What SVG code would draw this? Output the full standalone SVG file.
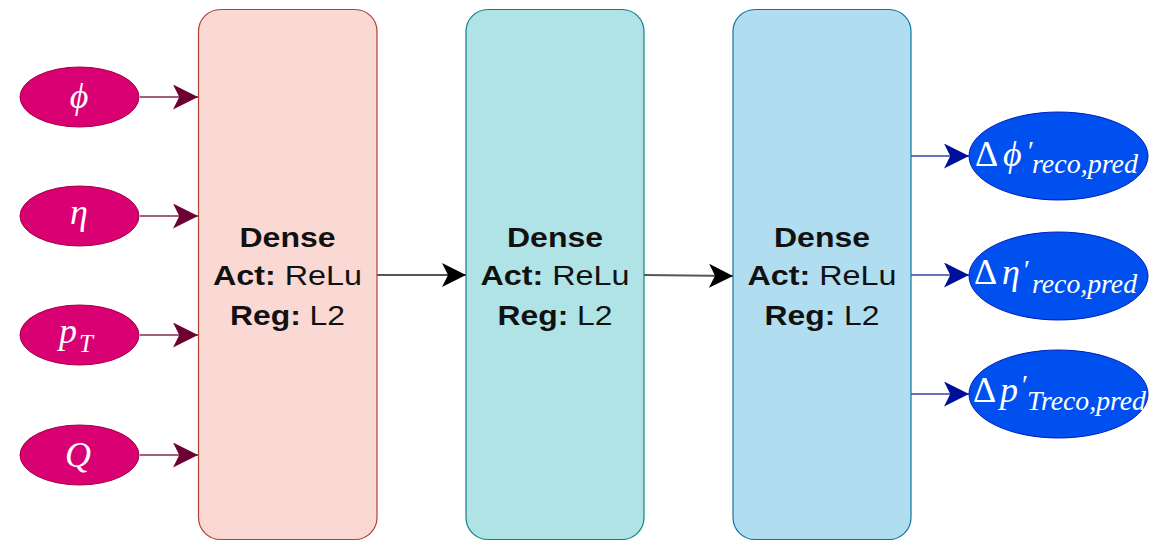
<svg xmlns="http://www.w3.org/2000/svg" width="1169" height="541" viewBox="0 0 1169 541">
  <defs>
    <marker id="ah-in" viewBox="0 0 10 10" refX="10" refY="5" markerWidth="25" markerHeight="25" markerUnits="userSpaceOnUse" orient="auto">
      <path d="M0,0 L10,5 L0,10 L2.5,5 Z" fill="#6d0032"/>
    </marker>
    <marker id="ah-mid" viewBox="0 0 10 10" refX="10" refY="5" markerWidth="24" markerHeight="24" markerUnits="userSpaceOnUse" orient="auto">
      <path d="M0,0 L10,5 L0,10 L2.5,5 Z" fill="#000"/>
    </marker>
    <marker id="ah-out" viewBox="0 0 10 10" refX="10" refY="5" markerWidth="25" markerHeight="25" markerUnits="userSpaceOnUse" orient="auto">
      <path d="M0,0 L10,5 L0,10 L2.5,5 Z" fill="#000f99"/>
    </marker>
  </defs>
  <style>
    .in { fill: #d80073; stroke: #a50040; stroke-width: 1; }
    .out { fill: #0050ef; stroke: #001dbc; stroke-width: 1; }
    .layer { stroke-width: 1.2; }
    .lbl { font-family: "Liberation Sans", Arial, sans-serif; font-size: 28px; fill: #111; text-anchor: middle; }
    .b { font-weight: bold; }
    .math { font-family: "Liberation Serif", "DejaVu Serif", serif; font-style: italic; fill: #fff; }
    .up { font-style: normal; }
    .c-in { stroke: #a0607e; stroke-width: 2; fill: none; marker-end: url(#ah-in); }
    .c-mid { stroke: #555; stroke-width: 2; fill: none; marker-end: url(#ah-mid); }
    .c-out { stroke: #6f6fbf; stroke-width: 2; fill: none; marker-end: url(#ah-out); }
  </style>

  <!-- connectors -->
  <g id="connectors">
    <path class="c-in" d="M140,97 L198,97"/>
    <path class="c-in" d="M140,216 L198,216"/>
    <path class="c-in" d="M140,335 L198,335"/>
    <path class="c-in" d="M140,455 L198,455"/>

    <path class="c-mid" d="M377,275 L466,275"/>
    <path class="c-mid" d="M644,275 L733,276"/>

    <path class="c-out" d="M911,156 L969,156"/>
    <path class="c-out" d="M911,275 L969,275"/>
    <path class="c-out" d="M911,394 L969,394"/>
  </g>

  <!-- inputs -->
  <g id="in-phi">
    <ellipse class="in" cx="79.5" cy="97" rx="59.5" ry="30"/>
    <text class="math" x="79" y="108" font-size="36" text-anchor="middle">ϕ</text>
  </g>
  <g id="in-eta">
    <ellipse class="in" cx="79.5" cy="216" rx="59.5" ry="30"/>
    <text class="math" x="79" y="224" font-size="36" text-anchor="middle">η</text>
  </g>
  <g id="in-pt">
    <ellipse class="in" cx="79.5" cy="335" rx="59.5" ry="30"/>
    <text class="math" font-size="36"><tspan x="59" y="343">p</tspan><tspan x="79" y="352" font-size="25">T</tspan></text>
  </g>
  <g id="in-q">
    <ellipse class="in" cx="79.5" cy="455" rx="59.5" ry="30"/>
    <text class="math" x="78" y="467" font-size="36" text-anchor="middle">Q</text>
  </g>

  <!-- dense layers -->
  <g id="layer1">
    <rect class="layer" x="198.5" y="9.5" width="178.5" height="530" rx="22" fill="#fad9d5" stroke="#ae4132"/>
    <text class="lbl b" x="287.5" y="247" textLength="96" lengthAdjust="spacingAndGlyphs">Dense</text>
    <text class="lbl" x="287.5" y="285" textLength="149" lengthAdjust="spacingAndGlyphs"><tspan class="b">Act:</tspan> ReLu</text>
    <text class="lbl" x="287.5" y="325" textLength="115" lengthAdjust="spacingAndGlyphs"><tspan class="b">Reg:</tspan> L2</text>
  </g>
  <g id="layer2">
    <rect class="layer" x="466" y="9.5" width="178" height="530" rx="22" fill="#b0e3e6" stroke="#0e8088"/>
    <text class="lbl b" x="555" y="247" textLength="96" lengthAdjust="spacingAndGlyphs">Dense</text>
    <text class="lbl" x="555" y="285" textLength="149" lengthAdjust="spacingAndGlyphs"><tspan class="b">Act:</tspan> ReLu</text>
    <text class="lbl" x="555" y="325" textLength="115" lengthAdjust="spacingAndGlyphs"><tspan class="b">Reg:</tspan> L2</text>
  </g>
  <g id="layer3">
    <rect class="layer" x="733" y="9.5" width="178" height="530" rx="22" fill="#b1ddf0" stroke="#10739e"/>
    <text class="lbl b" x="822" y="247" textLength="96" lengthAdjust="spacingAndGlyphs">Dense</text>
    <text class="lbl" x="822" y="285" textLength="149" lengthAdjust="spacingAndGlyphs"><tspan class="b">Act:</tspan> ReLu</text>
    <text class="lbl" x="822" y="325" textLength="115" lengthAdjust="spacingAndGlyphs"><tspan class="b">Reg:</tspan> L2</text>
  </g>

  <!-- outputs -->
  <g id="out-dphi">
    <ellipse class="out" cx="1058.5" cy="156" rx="89.5" ry="44"/>
    <text class="math" font-size="36"><tspan class="up" x="975" y="166">Δ</tspan><tspan x="1003" y="166">ϕ</tspan><tspan class="up" x="1028" y="160" font-size="28">′</tspan><tspan x="1032" y="173" font-size="27" textLength="106" lengthAdjust="spacingAndGlyphs">reco,pred</tspan></text>
  </g>
  <g id="out-deta">
    <ellipse class="out" cx="1058.5" cy="276" rx="89.5" ry="44"/>
    <text class="math" font-size="36"><tspan class="up" x="974" y="284">Δ</tspan><tspan x="1002" y="284">η</tspan><tspan class="up" x="1024" y="279" font-size="28">′</tspan><tspan x="1032" y="293" font-size="27" textLength="105" lengthAdjust="spacingAndGlyphs">reco,pred</tspan></text>
  </g>
  <g id="out-dpt">
    <ellipse class="out" cx="1058.5" cy="394" rx="89.5" ry="44"/>
    <text class="math" font-size="36"><tspan class="up" x="973" y="402">Δ</tspan><tspan x="1000" y="402">p</tspan><tspan class="up" x="1022" y="394" font-size="28">′</tspan><tspan x="1027" y="410" font-size="27" textLength="119" lengthAdjust="spacingAndGlyphs">Treco,pred</tspan></text>
  </g>
</svg>
